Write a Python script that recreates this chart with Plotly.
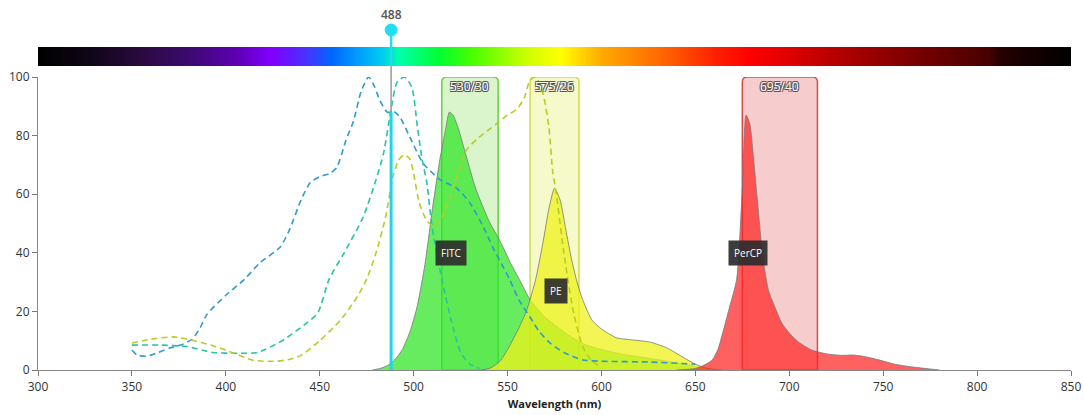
import numpy as np
import plotly.graph_objects as go

# ---- emission spectra (wavelength nm, relative intensity %) ----
fitc_em_x = [478, 482, 486, 490, 494, 498, 502, 506, 510, 514, 517, 519, 521, 524, 528, 533, 540, 546, 552, 557, 562, 570, 580, 590, 600, 610, 620, 630, 640, 650, 660]
fitc_em_y = [0, 0.5, 1.5, 3.5, 7, 13, 22, 36, 55, 72, 82, 88, 87, 82, 73, 62, 51, 44, 36, 30, 24, 18, 13, 9, 7, 5.5, 4.5, 3.5, 2.5, 1.2, 0]

pe_em_x = [536, 541, 546, 550, 555, 560, 565, 569, 572, 575, 578, 581, 584, 587, 590, 595, 600, 608, 616, 626, 635, 643, 650, 656, 664]
pe_em_y = [0, 0.7, 3, 7, 13, 20, 31, 44, 55, 62, 58, 48, 38, 30, 24, 17, 14, 11, 10.3, 9.5, 7.5, 4.5, 2, 0.6, 0]

percp_em_x = [640, 650, 655, 659, 662, 665, 668, 672, 675, 677, 679, 681, 683, 686, 689, 692, 696, 700, 705, 712, 720, 728, 734, 740, 748, 756, 766, 780]
percp_em_y = [0, 0.5, 1.8, 3.4, 7, 13.7, 21, 31, 62, 87, 84, 72, 58, 38, 27, 22, 16, 12.6, 9.5, 6.8, 5.5, 5, 5.1, 4.6, 3.4, 2, 1, 0]

# ---- excitation spectra ----
percp_ex_x = [350, 353, 358, 364, 370, 376, 382, 386, 390, 400, 410, 418, 429, 434, 440, 445, 450, 455, 459, 464, 468, 472, 476, 479, 482, 486, 490, 493, 498, 505, 514, 523, 530, 537, 542, 547, 551, 556, 562, 567, 573, 580, 590, 600, 626, 650]
percp_ex_y = [6.8, 5, 4.7, 6, 7.5, 8.5, 10.5, 14, 19, 25.5, 31, 36.5, 42, 48, 58, 64, 66, 67, 69, 78.5, 85, 95, 100, 97, 92, 88, 88, 86, 79.5, 70.6, 65, 62, 57, 49, 42, 36, 31, 24, 18, 13, 9, 6, 3.4, 3, 2.7, 2]

fitc_ex_x = [350, 365, 379, 393, 407, 417, 430, 443, 449, 455, 463, 473, 480, 484, 488, 491, 495, 499, 502, 504.5, 507, 510, 515, 520, 525, 530, 535]
fitc_ex_y = [8.5, 8.5, 8, 6, 5.7, 6, 10, 16, 19.5, 31, 40, 52, 65, 74, 89, 98, 100, 96.6, 83, 72, 64, 48, 31, 17, 6, 2, 0.5]

pe_ex_x = [350, 360, 372, 383, 392, 400, 407, 414, 420, 427, 433, 440, 450, 461, 470, 475, 480, 485, 489, 492, 495, 498, 500, 503, 507, 511, 515, 520, 528, 534, 540, 544, 550, 555, 559, 562, 565, 569, 572, 574, 576, 580, 585, 590, 595, 600]
pe_ex_y = [9.2, 10.5, 11.3, 10, 8.5, 6.8, 5, 3.4, 3, 3, 3.5, 5, 10, 17, 25, 31, 40, 52, 66, 71.7, 73.5, 72, 67, 57, 51, 49, 52, 60, 75, 79, 82, 84, 87, 89, 93, 99, 100, 94, 83, 68, 60, 40, 20, 8, 3, 1]

# ---- filters, labels, laser ----
filter_centers = [530, 575, 695]
filter_widths = [30, 26, 40]
filter_names = ["530/30", "575/26", "695/40"]
filter_fill = ["rgba(150,225,110,0.35)", "rgba(225,235,80,0.30)", "rgba(230,110,110,0.35)"]
filter_line = ["#6ccc4a", "#cfdc45", "#dd4a4a"]

dye_names = ["FITC", "PE", "PerCP"]
dye_label_x = [520, 576, 678]
dye_label_y = [40, 27, 40]

laser_nm = 488
laser_level = 88

x_ticks = [300, 350, 400, 450, 500, 550, 600, 650, 700, 750, 800, 850]
y_ticks = [0, 20, 40, 60, 80, 100]

# visible spectrum gradient stops (nm, colour)
spec_nm = [300, 330, 355, 380, 405, 424, 442, 456, 469, 483, 492, 513, 530, 560, 578, 600, 635, 660, 679, 732, 786, 806, 812, 850]
spec_col = ["#000000", "#12061a", "#2a0a40", "#3c0a70", "#5c00b0", "#8000ff", "#4a30ff", "#0066ff", "#0099ff",
            "#00ccee", "#00ffaa", "#00ff33", "#44ff00", "#ccff00", "#ffff00", "#ffaa00", "#ff6000", "#ff2000",
            "#ff0000", "#aa0000", "#600000", "#480000", "#250000", "#000000"]

X_MIN, X_MAX = 300, 850
Y_DOM_TOP = 0.8027

fig = go.Figure()

# spectrum bar
bar_x = np.arange(X_MIN, X_MAX + 1)
colorscale = [[(w - X_MIN) / (X_MAX - X_MIN), c] for w, c in zip(spec_nm, spec_col)]
fig.add_trace(go.Heatmap(x=bar_x, y=[0.5], z=[bar_x], colorscale=colorscale, zmin=X_MIN, zmax=X_MAX,
                         showscale=False, hoverinfo="skip", yaxis="y2", zsmooth="best"))

# emission fills
em_fill = ["rgba(45,228,35,0.72)", "rgba(238,242,25,0.75)", "rgba(255,35,35,0.72)"]
for xs, ys, fc, nm in zip([fitc_em_x, pe_em_x, percp_em_x], [fitc_em_y, pe_em_y, percp_em_y], em_fill, dye_names):
    fig.add_trace(go.Scatter(x=xs, y=ys, mode="lines", fill="tozeroy", fillcolor=fc,
                             line=dict(color="rgba(120,120,120,0.8)", width=1, shape="spline", smoothing=0.6),
                             name=nm + " Em", hoverinfo="skip"))

# excitation dashed lines
ex_col = ["#2f9bd0", "#26c4a2", "#b9cc26"]
for xs, ys, c, nm in zip([percp_ex_x, fitc_ex_x, pe_ex_x], [percp_ex_y, fitc_ex_y, pe_ex_y], ex_col, ["PerCP", "FITC", "PE"]):
    fig.add_trace(go.Scatter(x=xs, y=ys, mode="lines",
                             line=dict(color=c, width=1.6, dash="6px,4px", shape="spline", smoothing=0.6),
                             name=nm + " Ex", hoverinfo="skip"))

shapes = []
annotations = []

# filter boxes with rounded tops
rx, ry = 2.6, 1.7
for cen, wid, name, fc, lc in zip(filter_centers, filter_widths, filter_names, filter_fill, filter_line):
    x0, x1, top = cen - wid / 2, cen + wid / 2, 100
    path = (f"M {x0},0 L {x0},{top - ry} Q {x0},{top} {x0 + rx},{top} "
            f"L {x1 - rx},{top} Q {x1},{top} {x1},{top - ry} L {x1},0 Z")
    shapes.append(dict(type="path", path=path, xref="x", yref="y", fillcolor=fc,
                       line=dict(color=lc, width=1.5), layer="below"))
    annotations.append(dict(x=cen, y=96.6, xref="x", yref="y", text=name, showarrow=False,
                            yanchor="middle",
                            font=dict(family="Open Sans", size=12, color="white",
                                      shadow="-1px -1px 0 #555, 1px -1px 0 #555, -1px 1px 0 #555, 1px 1px 0 #555")))

# dye labels
for nm, lx, ly in zip(dye_names, dye_label_x, dye_label_y):
    annotations.append(dict(x=lx, y=ly, xref="x", yref="y", text=nm, showarrow=False, yanchor="middle",
                            bgcolor="rgba(45,45,45,0.92)", borderpad=5,
                            font=dict(family="Open Sans", size=10, color="white")))

# laser line and marker
circle_y = 0.9315
bar_bottom = 0.8329
shapes.append(dict(type="line", xref="x", yref="paper", x0=laser_nm, x1=laser_nm, y0=0, y1=circle_y,
                   line=dict(color="#9a9a9a", width=1.5)))
shapes.append(dict(type="line", xref="x", yref="paper", x0=laser_nm, x1=laser_nm, y0=bar_bottom, y1=circle_y,
                   line=dict(color="#22ddee", width=2.5)))
shapes.append(dict(type="line", xref="x", yref="y", x0=laser_nm, x1=laser_nm, y0=0, y1=laser_level,
                   line=dict(color="#22d4ea", width=3)))
shapes.append(dict(type="circle", xref="x", yref="paper", xsizemode="pixel", ysizemode="pixel",
                   xanchor=laser_nm, yanchor=circle_y, x0=-6, x1=6, y0=-6, y1=6,
                   fillcolor="#22ddf0", line=dict(color="#22ddf0", width=1)))
annotations.append(dict(x=laser_nm, y=0.975, xref="x", yref="paper", text=str(laser_nm), showarrow=False,
                        yanchor="middle",
                        font=dict(family="Open Sans", size=12, color="#555555", weight=600)))

fig.update_layout(
    width=1084, height=415,
    margin=dict(l=38, r=13, t=5, b=45, autoexpand=False),
    paper_bgcolor="white", plot_bgcolor="white",
    showlegend=False,
    shapes=shapes, annotations=annotations,
    xaxis=dict(range=[X_MIN, X_MAX], tickvals=x_ticks, ticks="outside", ticklen=5, tickcolor="#777",
               showline=True, linecolor="#888", linewidth=1.2, showgrid=False, zeroline=False,
               automargin=False,
               tickfont=dict(family="Open Sans", size=12, color="#333"),
               title=dict(text="Wavelength (nm)", standoff=6,
                          font=dict(family="Open Sans", size=11, color="#222", weight=700))),
    yaxis=dict(domain=[0, Y_DOM_TOP], range=[0, 100], tickvals=y_ticks, ticks="outside", ticklen=5,
               tickcolor="#777", showline=True, linecolor="#888", linewidth=1.2, showgrid=False,
               automargin=False,
               zeroline=False, tickfont=dict(family="Open Sans", size=12, color="#333")),
    yaxis2=dict(domain=[bar_bottom, 0.8849], range=[0, 1], visible=False, anchor="x"),
)

fig.write_html("out.html")
